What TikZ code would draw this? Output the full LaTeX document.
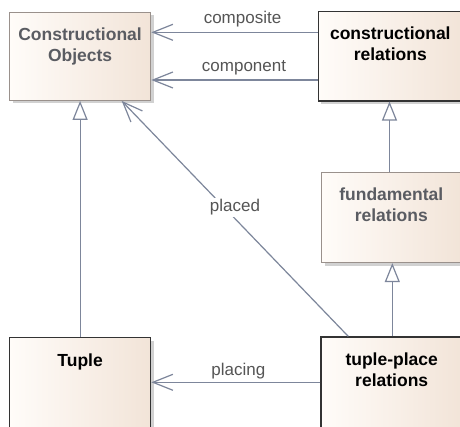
\documentclass[tikz,border=0pt]{standalone}
\usepackage{fontspec}
\setmainfont{Liberation Sans}
\usetikzlibrary{arrows.meta,shadows}

\definecolor{wire}{HTML}{7D869B}
\definecolor{boxlo}{HTML}{FFFCF9}
\definecolor{boxhi}{HTML}{F2E4D8}
\definecolor{softedge}{HTML}{9A918C}
\definecolor{hardedge}{HTML}{333333}
\definecolor{softtext}{HTML}{5A5C62}
\definecolor{labeltext}{HTML}{555555}

\tikzset{
  classbox/.style={line width=1.2pt, left color=boxlo, right color=boxhi,
    general shadow={shadow xshift=3pt, shadow yshift=-3pt, fill=black!18},
    inner sep=0pt},
  abstractbox/.style={classbox, draw=softedge},
  concretebox/.style={classbox, draw=hardedge},
  boxtitle/.style={anchor=north, inner sep=0pt, align=center,
    font=\fontsize{17.5}{21}\selectfont\bfseries},
  softtitle/.style={boxtitle, text=softtext},
  hardtitle/.style={boxtitle, text=black},
  assoc/.style={draw=wire, line width=1.2pt,
    -{Straight Barb[length=20pt,width=16pt]}},
  generalize/.style={draw=wire, line width=1.2pt,
    -{Triangle[open,length=19pt,width=15pt,fill=white]}},
  edgelabel/.style={font=\fontsize{17}{20}\selectfont, text=labeltext,
    inner sep=0pt, anchor=base},
}

\begin{document}
\begin{tikzpicture}[x=1pt,y=-1pt]
  \useasboundingbox (0,0) rectangle (460,426);
  \fill[white] (0,0) rectangle (460,426);
  \clip (0,0) rectangle (460,426);

  % class boxes
  \node[abstractbox, minimum width=141.2pt, minimum height=88pt] (co) at (80.1,56.3) {};
  \node[concretebox, minimum width=143.7pt, minimum height=89.3pt] (cr) at (390.2,56.3) {};
  \node[abstractbox, minimum width=139.3pt, minimum height=89.8pt] (fund) at (391.3,217.6) {};
  \node[concretebox, minimum width=141.2pt, minimum height=97.6pt] (tuple) at (80.1,386.5) {};
  \node[concretebox, minimum width=141pt, minimum height=98pt] (tp) at (391.5,386) {};

  % class names
  \node[softtitle] (co-t) at (80.1,27.8) {Constructional\\Objects};
  \node[hardtitle] (cr-t) at (390.3,27.0) {constructional\\relations};
  \node[softtitle] (fund-t) at (391.3,188.0) {fundamental\\relations};
  \node[hardtitle] (tuple-t) at (80.1,353.2) {Tuple};
  \node[hardtitle] (tp-t) at (391.7,352.5) {tuple-place\\relations};

  % heights and columns of the connectors
  \coordinate (ycomposite) at (0,32.3);
  \coordinate (ycomponent) at (0,80);
  \coordinate (yplacing) at (0,382.3);
  \coordinate (xcr) at (389.5,0);
  \coordinate (xfund) at (392.3,0);
  \coordinate (placedfrom) at (348.3,0);
  \coordinate (placedto) at (121.7,0);

  % associations
  \draw[assoc] (cr.west |- ycomposite) -- (co.east |- ycomposite);
  \draw[assoc] (cr.west |- ycomponent) -- (co.east |- ycomponent);
  \draw[assoc] (tp.west |- yplacing) -- (tuple.east |- yplacing);
  \draw[assoc] (tp.north -| placedfrom) -- (co.south -| placedto);

  % generalizations
  \draw[generalize] (tuple.north) -- (co.south);
  \draw[generalize] (fund.north -| xcr) -- (cr.south -| xcr);
  \draw[generalize] (tp.north -| xfund) -- (fund.south -| xfund);

  % connector labels
  \node[edgelabel] (l-composite) at (242.5,23) {composite};
  \node[edgelabel] (l-component) at (244,71) {component};
  \node[edgelabel] (l-placing) at (238.3,375) {placing};
  \node[font=\fontsize{17}{20}\selectfont, text=labeltext, fill=white,
        inner xsep=1pt, inner ysep=2pt] (l-placed) at (235,207.5) {placed};
\end{tikzpicture}
\end{document}
